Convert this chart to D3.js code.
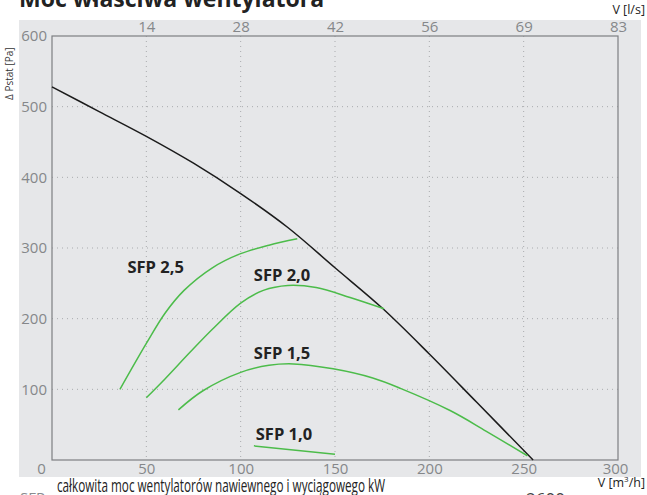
<!DOCTYPE html>
<html>
<head>
<meta charset="utf-8">
<script src="https://cdn.jsdelivr.net/npm/d3@7"></script>
<style>
  body { margin: 0; background: #fff; }
  svg { display: block; font-family: "Open Sans", "Noto Sans", sans-serif; }
</style>
</head>
<body>
<div id="chart"></div>
<script>
// airflow ticks (m3/h) and matching l/s labels
var flowTicks = [0, 50, 100, 150, 200, 250, 300];
var flowTicksLs = [50, 100, 150, 200, 250, 300]; // top axis shown in l/s
var pressTicks = [100, 200, 300, 400, 500, 600];

// fan curve [m3/h, Pa]
var fanCurve = [[0, 528], [25, 493], [50, 458], [75, 420], [100, 377], [125, 329],
  [150, 272], [175, 215], [200, 150], [225, 82], [255, 0]];

// SFP curves
var sfpNames = ["SFP 2,5", "SFP 2,0", "SFP 1,5", "SFP 1,0"];
var sfp25 = [[36, 100], [50, 165], [60, 208], [70, 240], [85, 272], [100, 292], [115, 304], [130, 313]];
var sfp20 = [[50, 88], [60, 115], [73, 152], [85, 185], [100, 222], [112, 240], [125, 247], [140, 244], [158, 230], [176, 214]];
var sfp15 = [[67, 71], [80, 98], [100, 124], [115, 134], [128, 136], [149, 129], [170, 116], [185, 101], [211, 70], [230, 41], [252, 6]];
var sfp10 = [[107, 20], [150, 8]];
var sfpLabelPos = [[40, 264], [107, 254], [107, 143], [108, 28]];

var W = 647, H = 495;
var margin = {top: 36, right: 29, bottom: 35, left: 52};
var width = W - margin.left - margin.right;
var height = H - margin.top - margin.bottom;

var svg = d3.select("#chart").append("svg")
  .attr("width", W).attr("height", H);

// grey panel
svg.append("rect")
  .attr("x", 19).attr("y", 20).attr("width", 622).attr("height", 457)
  .attr("fill", "#e6e7e9");

// title (cut at the top like the source)
svg.append("text")
  .attr("x", 19).attr("y", 7)
  .attr("font-size", 23).attr("font-weight", "bold").attr("fill", "#222")
  .text("Moc właściwa wentylatora");

var g = svg.append("g")
  .attr("transform", "translate(" + margin.left + "," + margin.top + ")");

var x = d3.scaleLinear().domain([0, 300]).range([0, width]);
var y = d3.scaleLinear().domain([0, 600]).range([height, 0]);

// dotted grid
g.selectAll(".vgrid")
  .data(flowTicks.filter(function(d) { return d > 0 && d < 300; }))
  .enter().append("line")
  .attr("x1", function(d) { return x(d); }).attr("x2", function(d) { return x(d); })
  .attr("y1", 0).attr("y2", height)
  .attr("stroke", "#a9abae").attr("stroke-width", 1).attr("stroke-dasharray", "1,4");

g.selectAll(".hgrid")
  .data(pressTicks.filter(function(d) { return d < 600; }))
  .enter().append("line")
  .attr("x1", 0).attr("x2", width)
  .attr("y1", function(d) { return y(d); }).attr("y2", function(d) { return y(d); })
  .attr("stroke", "#a9abae").attr("stroke-width", 1).attr("stroke-dasharray", "1,4");

// frame
g.append("rect")
  .attr("x", 0).attr("y", 0).attr("width", width).attr("height", height)
  .attr("fill", "none").attr("stroke", "#7d7f82").attr("stroke-width", 1.2);

// bottom axis (m3/h)
var xAxis = g.append("g")
  .attr("transform", "translate(0," + height + ")")
  .call(d3.axisBottom(x).tickValues(flowTicks).tickSize(0).tickPadding(3));
xAxis.select(".domain").remove();
xAxis.selectAll("text")
  .attr("font-size", 15).attr("fill", "#85878a").attr("font-family", "Open Sans")
  .attr("dx", function(d) { return d === 0 ? -11 : (d === 300 ? -3 : 0); });

// top axis (l/s)
var xTop = g.append("g")
  .call(d3.axisTop(x).tickValues(flowTicksLs).tickSize(0).tickPadding(4)
    .tickFormat(function(d) { return d3.format(".0f")(d / 3.6); }));
xTop.select(".domain").remove();
xTop.selectAll("text")
  .attr("font-size", 15).attr("fill", "#85878a").attr("font-family", "Open Sans");

// left axis
var yAxis = g.append("g")
  .call(d3.axisLeft(y).tickValues(pressTicks).tickSize(0).tickPadding(5));
yAxis.select(".domain").remove();
yAxis.selectAll("text")
  .attr("font-size", 15).attr("fill", "#85878a").attr("font-family", "Open Sans");

// curves
var line = d3.line()
  .x(function(d) { return x(d[0]); })
  .y(function(d) { return y(d[1]); })
  .curve(d3.curveCatmullRom.alpha(0.5));

g.append("path")
  .datum(fanCurve)
  .attr("d", line)
  .attr("fill", "none").attr("stroke", "#1b1b1b").attr("stroke-width", 1.5);

var sfpSeries = [sfp25, sfp20, sfp15, sfp10];
g.selectAll(".sfp")
  .data(sfpSeries)
  .enter().append("path")
  .attr("class", "sfp")
  .attr("d", line)
  .attr("fill", "none").attr("stroke", "#4cbc4a").attr("stroke-width", 1.5);

g.selectAll(".sfpLabel")
  .data(sfpNames)
  .enter().append("text")
  .attr("x", function(d, i) { return x(sfpLabelPos[i][0]); })
  .attr("y", function(d, i) { return y(sfpLabelPos[i][1]); })
  .attr("font-size", 16.5).attr("font-weight", "bold").attr("fill", "#222")
  .text(function(d) { return d; });

// axis titles
svg.append("text")
  .attr("transform", "translate(13,100) rotate(-90)")
  .attr("font-size", 10).attr("fill", "#333")
  .text("Δ Pstat [Pa]");

svg.append("text")
  .attr("x", 645).attr("y", 14).attr("text-anchor", "end")
  .attr("font-size", 12.5).attr("fill", "#222")
  .text("V [l/s]");

var mt = svg.append("text")
  .attr("x", 645).attr("y", 487).attr("text-anchor", "end")
  .attr("font-size", 12.5).attr("fill", "#222");
mt.append("tspan").text("V [m");
mt.append("tspan").attr("font-size", 8).attr("dy", -5).text("3");
mt.append("tspan").attr("dy", 5).text("/h]");

// footer (cut off at bottom)
svg.append("text")
  .attr("x", 57).attr("y", 492)
  .attr("font-size", 18.5).attr("fill", "#222")
  .attr("textLength", 328).attr("lengthAdjust", "spacingAndGlyphs")
  .text("całkowita moc wentylatorów nawiewnego i wyciągowego kW");

svg.append("text")
  .attr("x", 20).attr("y", 503)
  .attr("font-size", 15).attr("fill", "#8a8c8f")
  .text("SFP");

svg.append("text")
  .attr("x", 526).attr("y", 505)
  .attr("font-size", 17).attr("fill", "#444")
  .text("2600");
</script>
</body>
</html>
